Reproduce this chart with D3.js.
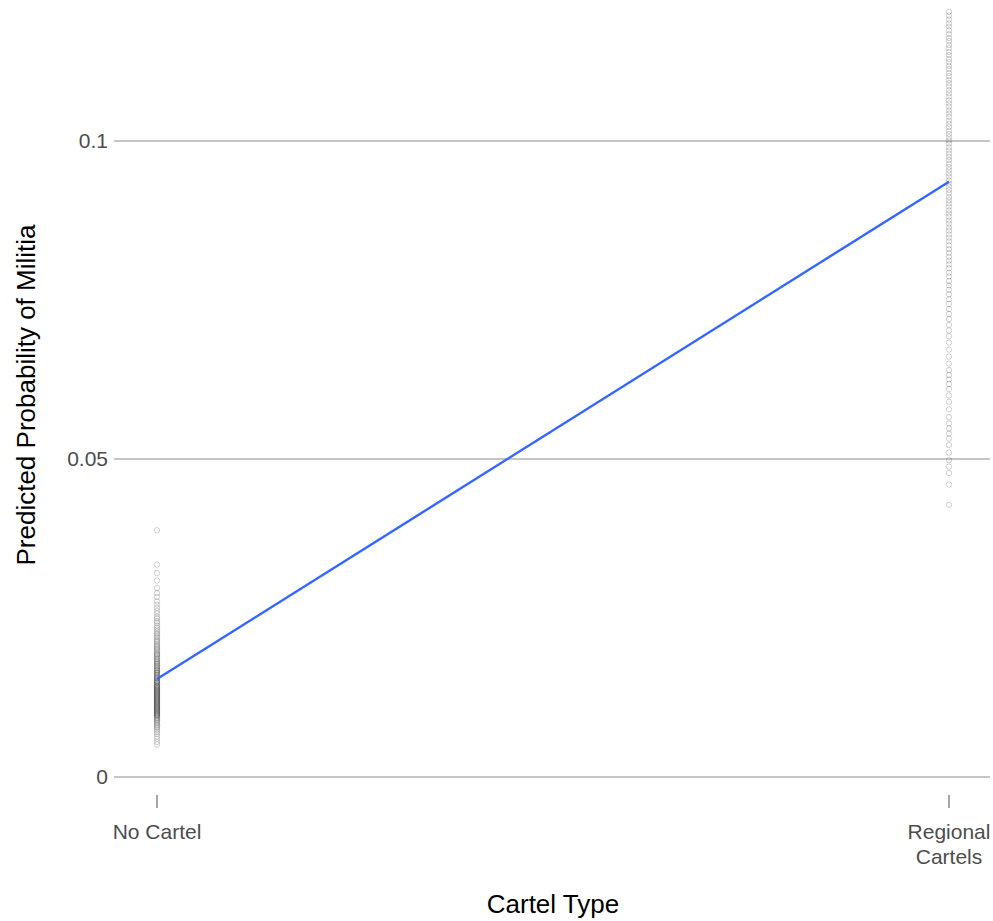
<!DOCTYPE html>
<html>
<head>
<meta charset="utf-8">
<script src="https://cdn.jsdelivr.net/npm/d3@7"></script>
<style>
  html, body { margin: 0; padding: 0; background: #fff; }
  svg { display: block; font-family: "Liberation Sans", Arial, Helvetica, sans-serif; }
</style>
</head>
<body>
<svg id="chart" width="993" height="921"></svg>
<script>
// Cartel categories and their tick labels (multi-line)
const categories = ["No Cartel", "Regional Cartels"];
const categoryLabels = [["No Cartel"], ["Regional", "Cartels"]];

// Y-axis ticks
const yTicks = [0, 0.05, 0.1];
const yTickLabels = ["0", "0.05", "0.1"];

// Fitted line: predicted probability by cartel type
const fitted = [0.0154, 0.0936];

// Observation-level predicted probabilities, No Cartel
const noCartel = [
  0.0388, 0.0334, 0.0321, 0.0309, 0.0297, 0.0289, 0.0283, 0.0276, 0.0271, 0.0266,
  0.0261, 0.0257, 0.0252, 0.0249, 0.0245, 0.0242, 0.0238, 0.0235, 0.0232, 0.0229,
  0.0226, 0.0224, 0.0221, 0.0219, 0.0216, 0.0214, 0.0212, 0.0209, 0.0207, 0.0205,
  0.0203, 0.0201, 0.0199, 0.0197, 0.0195, 0.0193, 0.0192, 0.0190, 0.0188, 0.0186,
  0.0185, 0.0183, 0.0181, 0.0180, 0.0178, 0.0177, 0.0175, 0.0174, 0.0172, 0.0171,
  0.0169, 0.0168, 0.0167, 0.0165, 0.0164, 0.0163, 0.0161, 0.0160, 0.0159, 0.0157,
  0.0156, 0.0155, 0.0154, 0.0152, 0.0151, 0.0150, 0.0149, 0.0148, 0.0147, 0.0145,
  0.0144, 0.0143, 0.0142, 0.0141, 0.0140, 0.0139, 0.0138, 0.0137, 0.0136, 0.0135,
  0.0134, 0.0133, 0.0132, 0.0131, 0.0130, 0.0129, 0.0128, 0.0127, 0.0126, 0.0125,
  0.0124, 0.0123, 0.0122, 0.0121, 0.0120, 0.0119, 0.0118, 0.0117, 0.0116, 0.0115,
  0.0114, 0.0113, 0.0112, 0.0111, 0.0110, 0.0109, 0.0108, 0.0107, 0.0106, 0.0105,
  0.0104, 0.0103, 0.0102, 0.0101, 0.0100, 0.0099, 0.0098, 0.0097, 0.0096, 0.0095,
  0.0093, 0.0092, 0.0090, 0.0089, 0.0087, 0.0085, 0.0083, 0.0081, 0.0079, 0.0077,
  0.0074, 0.0071, 0.0068, 0.0064, 0.0060, 0.0055, 0.0051
];

// Observation-level predicted probabilities, Regional Cartels
const regional = [
  0.1203, 0.1197, 0.1191, 0.1185, 0.1180, 0.1174, 0.1168, 0.1162, 0.1157, 0.1151,
  0.1146, 0.1140, 0.1135, 0.1129, 0.1124, 0.1118, 0.1113, 0.1107, 0.1102, 0.1096,
  0.1091, 0.1086, 0.1080, 0.1075, 0.1070, 0.1064, 0.1059, 0.1054, 0.1048, 0.1043,
  0.1038, 0.1032, 0.1027, 0.1022, 0.1016, 0.1011, 0.1006, 0.1001, 0.0996, 0.0990,
  0.0985, 0.0980, 0.0975, 0.0970, 0.0964, 0.0959, 0.0954, 0.0949, 0.0944, 0.0938,
  0.0933, 0.0928, 0.0923, 0.0918, 0.0912, 0.0907, 0.0902, 0.0897, 0.0891, 0.0886,
  0.0881, 0.0875, 0.0870, 0.0864, 0.0859, 0.0853, 0.0848, 0.0842, 0.0836, 0.0830,
  0.0824, 0.0818, 0.0812, 0.0806, 0.0800, 0.0793, 0.0787, 0.0780, 0.0773, 0.0766,
  0.0759, 0.0751, 0.0744, 0.0736, 0.0728, 0.0720, 0.0711, 0.0702, 0.0693, 0.0683,
  0.0672, 0.0661, 0.0650, 0.0640, 0.0632, 0.0625, 0.0618, 0.0610, 0.0600, 0.0590,
  0.0578, 0.0566, 0.0556, 0.0548, 0.0540, 0.0532, 0.0522, 0.0510, 0.0498, 0.0488,
  0.0478, 0.0460, 0.0428
];

const svg = d3.select("#chart");

const x = d3.scalePoint().domain(categories).range([157, 949]);
const y = d3.scaleLinear().domain([0, 0.1]).range([777, 141]);

const plotLeft = 114, plotRight = 990;

// Horizontal gridlines with tick labels
const yAxis = svg.append("g");
yAxis.selectAll("line.grid")
  .data(yTicks)
  .join("line")
  .attr("class", "grid")
  .attr("x1", plotLeft).attr("x2", plotRight)
  .attr("y1", d => y(d)).attr("y2", d => y(d))
  .attr("stroke", "#8c8c8c").attr("stroke-width", 1.1);
yAxis.selectAll("text")
  .data(yTicks)
  .join("text")
  .attr("x", 108)
  .attr("y", d => y(d))
  .attr("dy", "0.35em")
  .attr("text-anchor", "end")
  .attr("font-size", 21)
  .attr("fill", "#4d4d4d")
  .text((d, i) => yTickLabels[i]);

// Observation points
const obs = [
  ...noCartel.map(v => ({ cat: categories[0], v })),
  ...regional.map(v => ({ cat: categories[1], v }))
];
svg.append("g")
  .selectAll("circle")
  .data(obs)
  .join("circle")
  .attr("cx", d => x(d.cat))
  .attr("cy", d => y(d.v))
  .attr("r", 2.7)
  .attr("fill", "none")
  .attr("stroke", "#000")
  .attr("stroke-opacity", 0.18)
  .attr("stroke-width", 1);

// Fitted line
svg.append("path")
  .datum(categories.map((c, i) => ({ c, v: fitted[i] })))
  .attr("d", d3.line().x(d => x(d.c)).y(d => y(d.v)))
  .attr("fill", "none")
  .attr("stroke", "#3366FF")
  .attr("stroke-width", 2.4);

// X axis ticks and labels
const xAxis = svg.append("g");
xAxis.selectAll("line")
  .data(categories)
  .join("line")
  .attr("x1", d => x(d)).attr("x2", d => x(d))
  .attr("y1", 795).attr("y2", 808)
  .attr("stroke", "#4d4d4d").attr("stroke-width", 1);
xAxis.selectAll("text")
  .data(categories)
  .join("text")
  .attr("x", d => x(d))
  .attr("y", 839)
  .attr("text-anchor", "middle")
  .attr("font-size", 21)
  .attr("fill", "#4d4d4d")
  .each(function(d, i) {
    const t = d3.select(this);
    categoryLabels[i].forEach((line, j) => {
      t.append("tspan").attr("x", x(d)).attr("dy", j === 0 ? 0 : 25).text(line);
    });
  });

// Axis titles
svg.append("text")
  .attr("x", 553).attr("y", 913)
  .attr("text-anchor", "middle")
  .attr("font-size", 26)
  .attr("fill", "#000")
  .text("Cartel Type");

svg.append("text")
  .attr("transform", "translate(35,395) rotate(-90)")
  .attr("text-anchor", "middle")
  .attr("font-size", 26)
  .attr("fill", "#000")
  .text("Predicted Probability of Militia");
</script>
</body>
</html>
